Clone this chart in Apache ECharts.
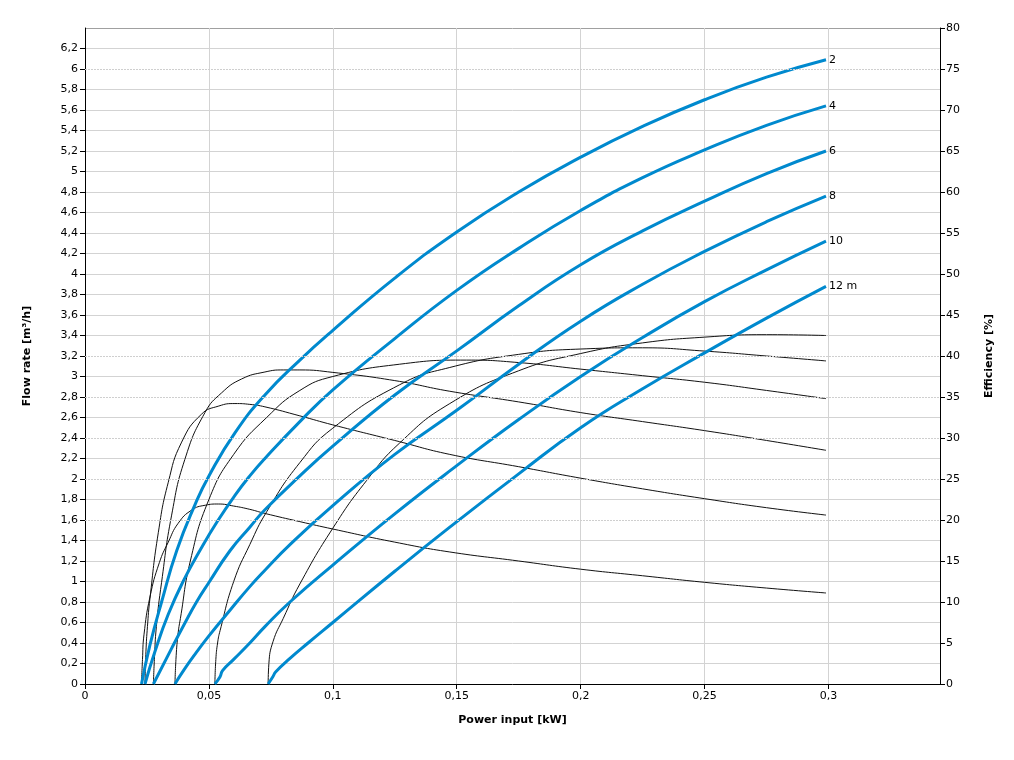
<!DOCTYPE html>
<html>
<head>
<meta charset="utf-8">
<script src="https://cdn.jsdelivr.net/npm/echarts@6/dist/echarts.min.js"></script>
<style>
  html, body { margin: 0; padding: 0; background: #fff; }
  #chart { width: 1014px; height: 760px; }
</style>
</head>
<body>
<div id="chart"></div>
<script>
// pump curves: flow rate [m3/h] vs power input [kW], one per head
const flow2m = [[0.0228,0],[0.0262,0.38],[0.0309,0.8],[0.037,1.3],[0.0444,1.75],[0.05,2.03],[0.0605,2.45],[0.0726,2.82],[0.0867,3.16],[0.1,3.45],[0.125,3.96],[0.15,4.41],[0.175,4.8],[0.2,5.14],[0.225,5.44],[0.25,5.7],[0.275,5.92],[0.299,6.09]];
const flow4m = [[0.0242,0],[0.028,0.3],[0.0336,0.68],[0.04,1.02],[0.047,1.33],[0.0535,1.59],[0.0605,1.84],[0.0665,2.03],[0.0726,2.2],[0.0867,2.56],[0.1,2.87],[0.125,3.37],[0.15,3.84],[0.175,4.25],[0.2,4.62],[0.225,4.94],[0.25,5.21],[0.275,5.45],[0.299,5.64]];
const flow6m = [[0.0276,0],[0.035,0.35],[0.04,0.58],[0.045,0.8],[0.05,0.99],[0.0585,1.3],[0.0665,1.53],[0.0726,1.7],[0.0867,2.03],[0.1,2.32],[0.125,2.82],[0.15,3.25],[0.175,3.69],[0.2,4.09],[0.225,4.42],[0.25,4.71],[0.275,4.98],[0.299,5.2]];
const flow8m = [[0.0363,0],[0.04,0.14],[0.045,0.31],[0.05,0.47],[0.0585,0.72],[0.0665,0.95],[0.0726,1.11],[0.0827,1.36],[0.1,1.74],[0.125,2.24],[0.15,2.67],[0.175,3.12],[0.2,3.54],[0.225,3.9],[0.25,4.22],[0.275,4.51],[0.299,4.76]];
const flow10m = [[0.0524,0],[0.0545,0.07],[0.0555,0.13],[0.06,0.24],[0.0665,0.4],[0.0726,0.56],[0.0827,0.8],[0.1,1.16],[0.125,1.66],[0.15,2.13],[0.175,2.58],[0.2,3.0],[0.225,3.38],[0.25,3.73],[0.275,4.04],[0.299,4.32]];
const flow12m = [[0.0739,0],[0.0758,0.07],[0.077,0.12],[0.0827,0.25],[0.09,0.4],[0.1,0.6],[0.125,1.1],[0.1472,1.53],[0.175,2.05],[0.2,2.5],[0.225,2.88],[0.25,3.23],[0.275,3.57],[0.299,3.88]];

// efficiency [%] vs power input [kW]
const eff2m = [[0.0228,0],[0.0232,3],[0.0238,6],[0.0262,10.6],[0.03,14.8],[0.0336,17.3],[0.0376,19.6],[0.043,21.2],[0.0485,21.8],[0.0538,21.95],[0.06,21.7],[0.0665,21.3],[0.0726,20.8],[0.0867,19.8],[0.1,18.9],[0.125,17.3],[0.1472,16.1],[0.175,15.0],[0.2,14.0],[0.225,13.2],[0.25,12.4],[0.275,11.7],[0.299,11.1]];
const eff4m = [[0.0242,0],[0.0246,4],[0.0252,7],[0.0262,10.4],[0.0296,18.5],[0.0336,24.6],[0.039,29.5],[0.047,32.9],[0.054,33.9],[0.0605,34.2],[0.0665,34.1],[0.0726,33.8],[0.0867,32.7],[0.1,31.6],[0.125,29.7],[0.1472,28.0],[0.175,26.5],[0.2,25.1],[0.225,23.8],[0.25,22.6],[0.275,21.5],[0.299,20.6]];
const eff6m = [[0.0276,0],[0.028,3],[0.0288,7],[0.0309,12.4],[0.0349,20.5],[0.0403,27.4],[0.0484,33.1],[0.0551,35.5],[0.0632,37.2],[0.0726,38.05],[0.08,38.3],[0.0867,38.3],[0.1,38.0],[0.125,37.0],[0.1472,35.7],[0.175,34.4],[0.2,33.1],[0.225,32.0],[0.25,30.9],[0.275,29.7],[0.299,28.5]];
const eff8m = [[0.0363,0],[0.0367,3],[0.0375,6],[0.0385,8],[0.0425,15],[0.05,22.5],[0.06,28],[0.0733,32.5],[0.0867,35.8],[0.1,37.5],[0.127,39.0],[0.154,39.5],[0.175,39.2],[0.2,38.4],[0.225,37.6],[0.25,36.8],[0.275,35.8],[0.299,34.8]];
const eff10m = [[0.0524,0],[0.0528,3],[0.0535,5],[0.0545,6.5],[0.06,12.5],[0.0665,17],[0.0733,21],[0.0867,27],[0.1,31.2],[0.127,36.5],[0.1472,38.6],[0.175,40.2],[0.2,40.85],[0.225,41.0],[0.25,40.6],[0.275,40.0],[0.299,39.4]];
const eff12m = [[0.0739,0],[0.0742,2.5],[0.0759,5.2],[0.08,8],[0.0867,12.2],[0.1,19],[0.1136,24.8],[0.127,29.4],[0.1472,34.2],[0.175,38.2],[0.2,40.3],[0.225,41.6],[0.25,42.3],[0.275,42.6],[0.299,42.5]];

const headLabels = ['2', '4', '6', '8', '10', '12 m'];
const flowCurves = [flow2m, flow4m, flow6m, flow8m, flow10m, flow12m];
const effCurves = [eff2m, eff4m, eff6m, eff8m, eff10m, eff12m];

// flow levels where the grid line is drawn dotted
const dottedLevels = [1.6, 2.0, 2.4, 2.8, 3.2, 6.0];

const FONT = 'DejaVu Sans';
const BLUE = '#0089ce';
const GRID = '#d3d3d3';

const fmt = v => String(Math.round(v * 1000) / 1000).replace('.', ',');

// left split line colours: hide the ones drawn dotted, darker top border
const leftLineColors = [];
for (let i = 0; i <= 32; i++) {
  const v = Math.round(i * 2) / 10;
  if (i === 32) leftLineColors.push('#a0a0a0');
  else if (dottedLevels.some(d => Math.abs(d - v) < 1e-6)) leftLineColors.push('rgba(0,0,0,0)');
  else leftLineColors.push(GRID);
}

const series = [];
series.push({
  type: 'line', data: [], z: 1, silent: true,
  markLine: {
    silent: true, symbol: 'none', animation: false,
    label: { show: false },
    lineStyle: { type: [2, 1], color: '#cfcfcf', width: 1 },
    data: dottedLevels.map(v => ({ yAxis: v }))
  }
});
effCurves.forEach(d => {
  series.push({
    type: 'line', data: d, yAxisIndex: 1, smooth: 0.5,
    showSymbol: false, silent: true, z: 2,
    lineStyle: { color: '#111', width: 1 }
  });
});
flowCurves.forEach((d, i) => {
  series.push({
    type: 'line', data: d, yAxisIndex: 0, smooth: 0.5,
    showSymbol: false, silent: true, z: 3,
    lineStyle: { color: BLUE, width: 3 },
    endLabel: {
      show: true, formatter: headLabels[i], color: '#000',
      fontFamily: FONT, fontSize: 11, distance: 3
    }
  });
});

const chart = echarts.init(document.getElementById('chart'));
chart.setOption({
  animation: false,
  backgroundColor: '#fff',
  textStyle: { fontFamily: FONT },
  grid: { left: 85, right: 74, top: 28, bottom: 76 },
  xAxis: {
    type: 'value', min: 0, max: 0.345, interval: 0.05,
    name: 'Power input [kW]', nameLocation: 'middle', nameGap: 31,
    nameTextStyle: { fontFamily: FONT, fontSize: 11, fontWeight: 'bold', color: '#000' },
    axisLine: { show: true, lineStyle: { color: '#000', width: 1 } },
    axisTick: { show: true, length: 5, lineStyle: { color: '#000' } },
    axisLabel: { color: '#000', fontSize: 11, fontFamily: FONT, margin: 7, formatter: fmt, showMaxLabel: false },
    splitLine: { show: true, lineStyle: { color: GRID, width: 1 } }
  },
  yAxis: [
    {
      type: 'value', min: 0, max: 6.4, interval: 0.2, position: 'left',
      name: 'Flow rate [m³/h]', nameLocation: 'middle', nameRotate: 90, nameGap: 52,
      nameTextStyle: { fontFamily: FONT, fontSize: 11, fontWeight: 'bold', color: '#000' },
      axisLine: { show: true, lineStyle: { color: '#000', width: 1 } },
      axisTick: { show: true, length: 5, lineStyle: { color: '#000' } },
      axisLabel: { color: '#000', fontSize: 11, fontFamily: FONT, margin: 7, formatter: fmt, showMaxLabel: false },
      splitLine: { show: true, lineStyle: { color: leftLineColors, width: 1 } }
    },
    {
      type: 'value', min: 0, max: 80, interval: 5, position: 'right',
      name: 'Efficiency [%]', nameLocation: 'middle', nameRotate: 90, nameGap: 44,
      nameTextStyle: { fontFamily: FONT, fontSize: 11, fontWeight: 'bold', color: '#000' },
      axisLine: { show: true, lineStyle: { color: '#000', width: 1 } },
      axisTick: { show: true, length: 5, lineStyle: { color: '#000' } },
      axisLabel: { color: '#000', fontSize: 11, fontFamily: FONT, margin: 6 },
      splitLine: { show: false }
    }
  ],
  series: series
});
</script>
</body>
</html>
